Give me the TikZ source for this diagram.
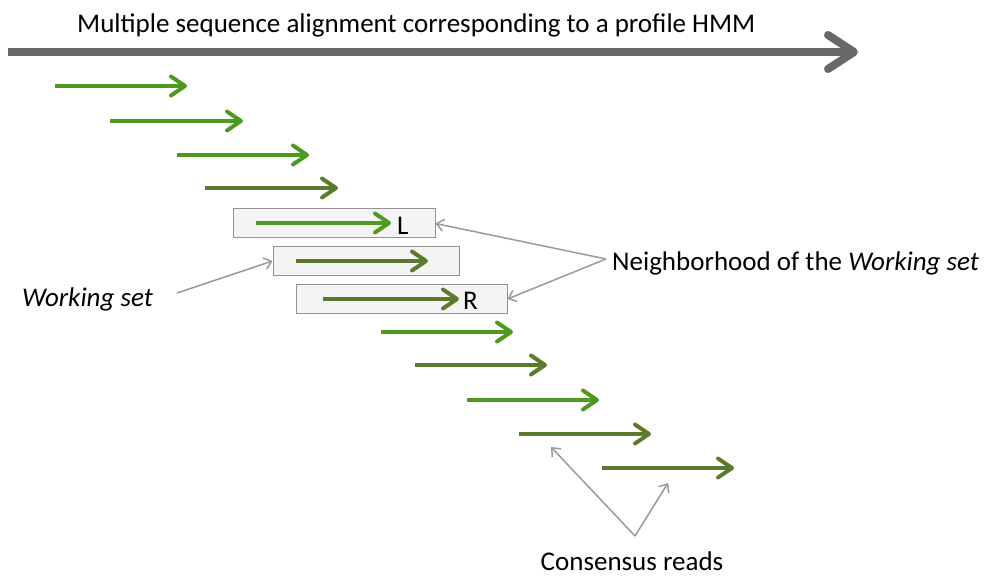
\documentclass[tikz,border=0pt]{standalone}
\usepackage{fontspec}
\setmainfont{Carlito}
\usetikzlibrary{arrows.meta}
\definecolor{brg}{HTML}{4E9A1F}
\definecolor{olv}{HTML}{5C7A2E}
\definecolor{bigg}{HTML}{686868}
\definecolor{anng}{HTML}{9A9A9A}
\tikzset{
  readarrow/.style={line width=3.6pt, -{Straight Barb[length=14pt,width=19pt,line width=4pt,round]}},
  bright/.style={readarrow, draw=brg},
  olive/.style={readarrow, draw=olv},
  wbox/.style={draw=gray!85, fill=gray!9, line width=1pt, minimum height=29pt, inner sep=0pt},
  annot/.style={draw=anng, line width=1.5pt, -{Straight Barb[length=7pt,width=12pt,line width=1.5pt]}},
  lbl/.style={font=\fontsize{27}{30}\selectfont, inner sep=0pt, anchor=west},
}
\begin{document}
\begin{tikzpicture}[x=1pt,y=-1pt]
\useasboundingbox (0,0) rectangle (984,577);
% title and big arrow
\node[lbl] (title) at (77,25) {Multiple sequence alignment corresponding to a profile HMM};
\coordinate (bs) at (8,52);
\coordinate (be) at (858,52);
\draw[draw=bigg, line width=8pt, -{Straight Barb[length=26pt,width=34pt,line width=8pt,round]}] (bs) -- (be);
% reads
\coordinate (a1s) at (55,86);  \coordinate (a1e) at (187,86);
\coordinate (a2s) at (110,121); \coordinate (a2e) at (243,121);
\coordinate (a3s) at (177,155); \coordinate (a3e) at (309,155);
\coordinate (a4s) at (205,188); \coordinate (a4e) at (338,188);
\draw[bright] (a1s) -- (a1e);
\draw[bright] (a2s) -- (a2e);
\draw[bright] (a3s) -- (a3e);
\draw[olive] (a4s) -- (a4e);
% boxes
\node[wbox, minimum width=202pt] (bL) at (334,223.5) {};
\node[wbox, minimum width=186pt] (bW) at (366,261) {};
\node[wbox, minimum width=211pt] (bR) at (401.5,299) {};
\coordinate (aLs) at (256,223); \coordinate (aLe) at (391,223);
\coordinate (aWs) at (296,261); \coordinate (aWe) at (428,261);
\coordinate (aRs) at (323,299); \coordinate (aRe) at (459,299);
\draw[bright] (aLs) -- (aLe);
\draw[olive] (aWs) -- (aWe);
\draw[olive] (aRs) -- (aRe);
\node[lbl] (L) at (397,226) {L};
\node[lbl] (R) at (463,301) {R};
% remaining reads
\coordinate (a5s) at (381,332); \coordinate (a5e) at (513,332);
\coordinate (a6s) at (415,365); \coordinate (a6e) at (547,365);
\coordinate (a7s) at (467,400); \coordinate (a7e) at (599,400);
\coordinate (a8s) at (519,434); \coordinate (a8e) at (651,434);
\coordinate (a9s) at (602,468); \coordinate (a9e) at (734,468);
\draw[bright] (a5s) -- (a5e);
\draw[olive] (a6s) -- (a6e);
\draw[bright] (a7s) -- (a7e);
\draw[olive] (a8s) -- (a8e);
\draw[olive] (a9s) -- (a9e);
% labels
\node[lbl] (nb) at (612,263) {Neighborhood of the \textit{Working set}};
\node[lbl] (ws) at (22,299) {\textit{Working set}};
\node[lbl, anchor=center] (cr) at (632,561) {Consensus reads};
% annotation arrows
\coordinate (nbp) at (606,259);
\coordinate (wsp) at (177,293);
\coordinate (crp) at (635,536);
\draw[annot] (nbp) -- (bL.east);
\draw[annot] (nbp) -- (bR.east);
\draw[annot] (wsp) -- (bW.west);
\draw[annot] (crp) -- (551,447);
\draw[annot] (crp) -- (668,483);
\end{tikzpicture}
\end{document}
